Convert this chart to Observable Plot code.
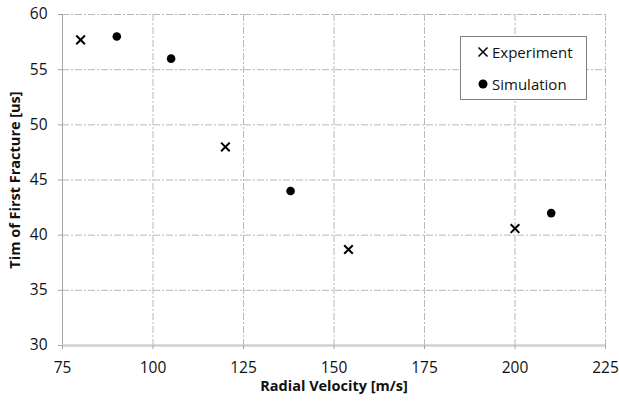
<!DOCTYPE html>
<html><head><meta charset="utf-8">
<script src="https://cdn.jsdelivr.net/npm/d3@7"></script>
<script src="https://cdn.jsdelivr.net/npm/@observablehq/plot@0.6"></script>
<style>
body{margin:0;background:#fff}
#wrap{position:relative;width:619px;height:403px;font-family:"Open Sans",sans-serif}
#legend{position:absolute;left:460px;top:36px;width:127px;height:64px;border:1px solid #7f7f7f;background:#fff;box-sizing:border-box;font-size:15px;color:#111}
.row{position:absolute;left:16px;height:20px;display:flex;align-items:center}
.row svg{margin-right:3px}
</style>
</head><body><div id="wrap"></div>
<script>
const expVelocity = [80, 120, 154, 200];
const expTime = [57.7, 48.0, 38.7, 40.6];
const simVelocity = [90, 105, 138, 210];
const simTime = [58.0, 56.0, 44.0, 42.0];
const xTicks = [75, 100, 125, 150, 175, 200, 225];
const yTicks = [30, 35, 40, 45, 50, 55, 60];
const xTitle = "Radial Velocity [m/s]";
const yTitle = "Tim of First Fracture [us]";
const seriesNames = ["Experiment", "Simulation"];

const exp = expVelocity.map((v, i) => ({v, t: expTime[i]}));
const sim = simVelocity.map((v, i) => ({v, t: simTime[i]}));

const chart = Plot.plot({
  width: 619, height: 403,
  marginLeft: 62, marginRight: 14, marginTop: 14, marginBottom: 58,
  style: {fontFamily: "'Open Sans', sans-serif", color: "#111", background: "#fff"},
  x: {domain: [75, 225]},
  y: {domain: [30, 60]},
  marks: [
    Plot.gridX(xTicks, {stroke: "#b8b8b8", strokeOpacity: 1, strokeDasharray: "7,2,2,2"}),
    Plot.gridY(yTicks, {stroke: "#b8b8b8", strokeOpacity: 1, strokeDasharray: "7,2,2,2"}),
    Plot.ruleX([75], {stroke: "#a6a6a6", strokeWidth: 1}),
    Plot.ruleY([30], {stroke: "#d0d0d0", strokeWidth: 2.5}),
    Plot.axisX({ticks: xTicks, tickSize: 4, tickPadding: 12, fontSize: 15.5, stroke: "#a6a6a6", label: null, tickFormat: d => String(d)}),
    Plot.axisY({ticks: yTicks, tickSize: 4, tickPadding: 11, fontSize: 15.5, stroke: "#a6a6a6", label: null, tickFormat: d => String(d)}),
    Plot.text([xTitle], {frameAnchor: "bottom", dy: 45, text: d => d, fontSize: 14.5, fontWeight: "bold", textAnchor: "middle", fill: "#111"}),
    Plot.text([yTitle], {frameAnchor: "left", dx: -47, rotate: -90, text: d => d, fontSize: 14.5, fontWeight: "bold", textAnchor: "middle", fill: "#111"}),
    Plot.dot(sim, {x: "v", y: "t", r: 4.3, fill: "#000", stroke: "none"}),
    Plot.dot(exp, {x: "v", y: "t", symbol: "times", r: 4, stroke: "#000", strokeWidth: 2})
  ]
});
const wrap = document.getElementById("wrap");
wrap.appendChild(chart);

const legend = document.createElement("div");
legend.id = "legend";
legend.innerHTML =
  `<div class="row" style="top:5px"><svg width="12" height="12"><path d="M1.5,1.5L10.5,10.5M10.5,1.5L1.5,10.5" stroke="#000" stroke-width="1.5"/></svg><span>${seriesNames[0]}</span></div>` +
  `<div class="row" style="top:37px"><svg width="12" height="12"><circle cx="6" cy="6" r="4.5" fill="#000"/></svg><span>${seriesNames[1]}</span></div>`;
wrap.appendChild(legend);
</script>
</body></html>
